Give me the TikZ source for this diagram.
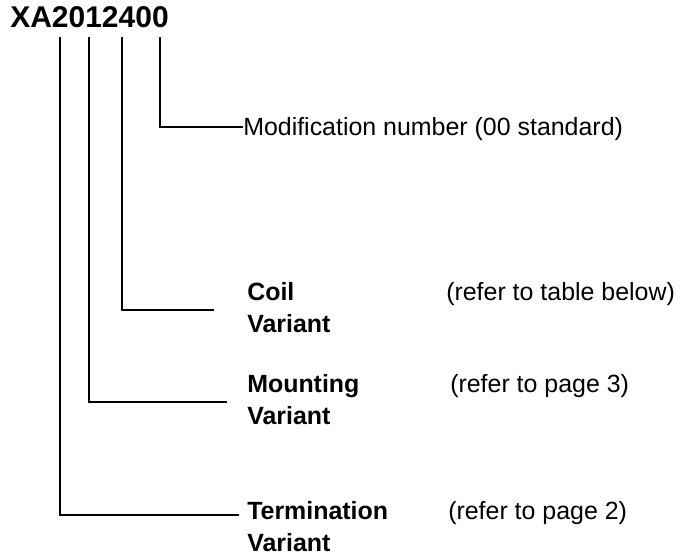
\documentclass[tikz,border=0pt]{standalone}
\usepackage{fontspec}
\setmainfont{Liberation Sans}
\begin{document}
\begin{tikzpicture}[x=0.75pt,y=-0.75pt,
  conn/.style={line width=1.1pt,line cap=rect},
  lbl/.style={anchor=base west,inner sep=0pt,align=left,font=\fontsize{18.7pt}{24pt}\selectfont},
  blbl/.style={lbl,font=\fontsize{18.7pt}{24pt}\selectfont\bfseries},
  ttl/.style={anchor=base west,inner sep=0pt,font=\fontsize{22.5pt}{27pt}\selectfont\bfseries}]
\useasboundingbox (0,0) rectangle (686,558);
\node[ttl] (title) at (10,27) {XA2012400};
% tops of the leader lines
\coordinate (t1) at (60,38);
\coordinate (t2) at (89,38);
\coordinate (t3) at (122,38);
\coordinate (t4) at (160,38);
% labels (anchored at the baseline of the last line)
\node[lbl] (mod) at (243,135) {Modification number (00 standard)};
\node[blbl] (coil) at (247,332) {Coil\\Variant};
\node[lbl] (coilref) at (446,300) {(refer to table below)};
\node[blbl] (mount) at (247,424) {Mounting\\Variant};
\node[lbl] (mountref) at (450,392) {(refer to page 3)};
\node[blbl] (term) at (247,551) {Termination\\Variant};
\node[lbl] (termref) at (448,519) {(refer to page 2)};
% leader end points
\coordinate (e4) at (242,127);
\coordinate (e3) at (213,310);
\coordinate (e2) at (226,402);
\coordinate (e1) at (238,515);
\draw[conn] (t4) |- (e4);
\draw[conn] (t3) |- (e3);
\draw[conn] (t2) |- (e2);
\draw[conn] (t1) |- (e1);
\end{tikzpicture}
\end{document}
